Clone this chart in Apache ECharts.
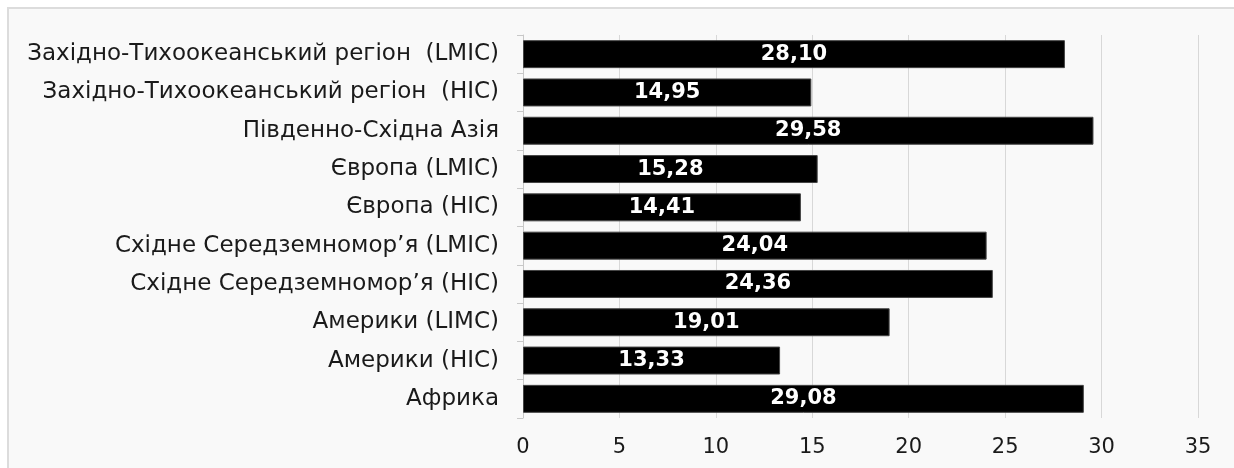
<!DOCTYPE html>
<html>
<head>
<meta charset="utf-8">
<script src="https://cdn.jsdelivr.net/npm/echarts@6/dist/echarts.min.js"></script>
<style>
  html, body { margin: 0; padding: 0; background: #ffffff; }
  #frame {
    position: absolute; left: 7px; top: 7px; right: 0; bottom: 0;
    background: #f9f9f9;
    border-left: 2px solid #dcdcdc;
    border-top: 2px solid #dcdcdc;
  }
  #chart { position: absolute; left: 0; top: 0; width: 1234px; height: 468px; }
</style>
</head>
<body>
<div id="frame"></div>
<div id="chart"></div>
<script>
// Regions, listed top to bottom
const categories = [
  'Західно-Тихоокеанський регіон  (LMIC)',
  'Західно-Тихоокеанський регіон  (HIC)',
  'Південно-Східна Азія',
  'Європа (LMIC)',
  'Європа (HIC)',
  'Східне Середземномор\u2019я (LMIC)',
  'Східне Середземномор\u2019я (HIC)',
  'Америки (LIMC)',
  'Америки (HIC)',
  'Африка'
];
const values = [28.10, 14.95, 29.58, 15.28, 14.41, 24.04, 24.36, 19.01, 13.33, 29.08];
const axisMin = 0;
const axisMax = 35;
const axisStep = 5;

const chart = echarts.init(document.getElementById('chart'));
chart.setOption({
  backgroundColor: 'transparent',
  animation: false,
  textStyle: { fontFamily: '"DejaVu Sans", sans-serif' },
  grid: { left: 523, right: 36, top: 35, bottom: 50, containLabel: false },
  xAxis: {
    type: 'value',
    min: axisMin, max: axisMax, interval: axisStep,
    axisLine: { show: false },
    axisTick: { show: false },
    splitLine: { show: true, lineStyle: { color: '#d8d8d8', width: 1 } },
    axisLabel: { color: '#1a1a1a', fontSize: 21, margin: 19 }
  },
  yAxis: {
    type: 'category',
    inverse: true,
    data: categories,
    axisLine: { show: true, lineStyle: { color: '#c8c8c8', width: 1 } },
    axisTick: { show: true, length: 6, lineStyle: { color: '#c8c8c8' } },
    axisLabel: { color: '#1a1a1a', fontSize: 23, margin: 24 }
  },
  series: [{
    type: 'bar',
    data: values,
    barCategoryGap: '27%',
    itemStyle: { color: '#000000', borderColor: '#444444', borderWidth: 1 },
    label: {
      show: true,
      position: 'inside',
      color: '#ffffff',
      fontWeight: 'bold',
      fontSize: 21,
      formatter: p => p.value.toFixed(2).replace('.', ',')
    }
  }]
});
</script>
</body>
</html>
